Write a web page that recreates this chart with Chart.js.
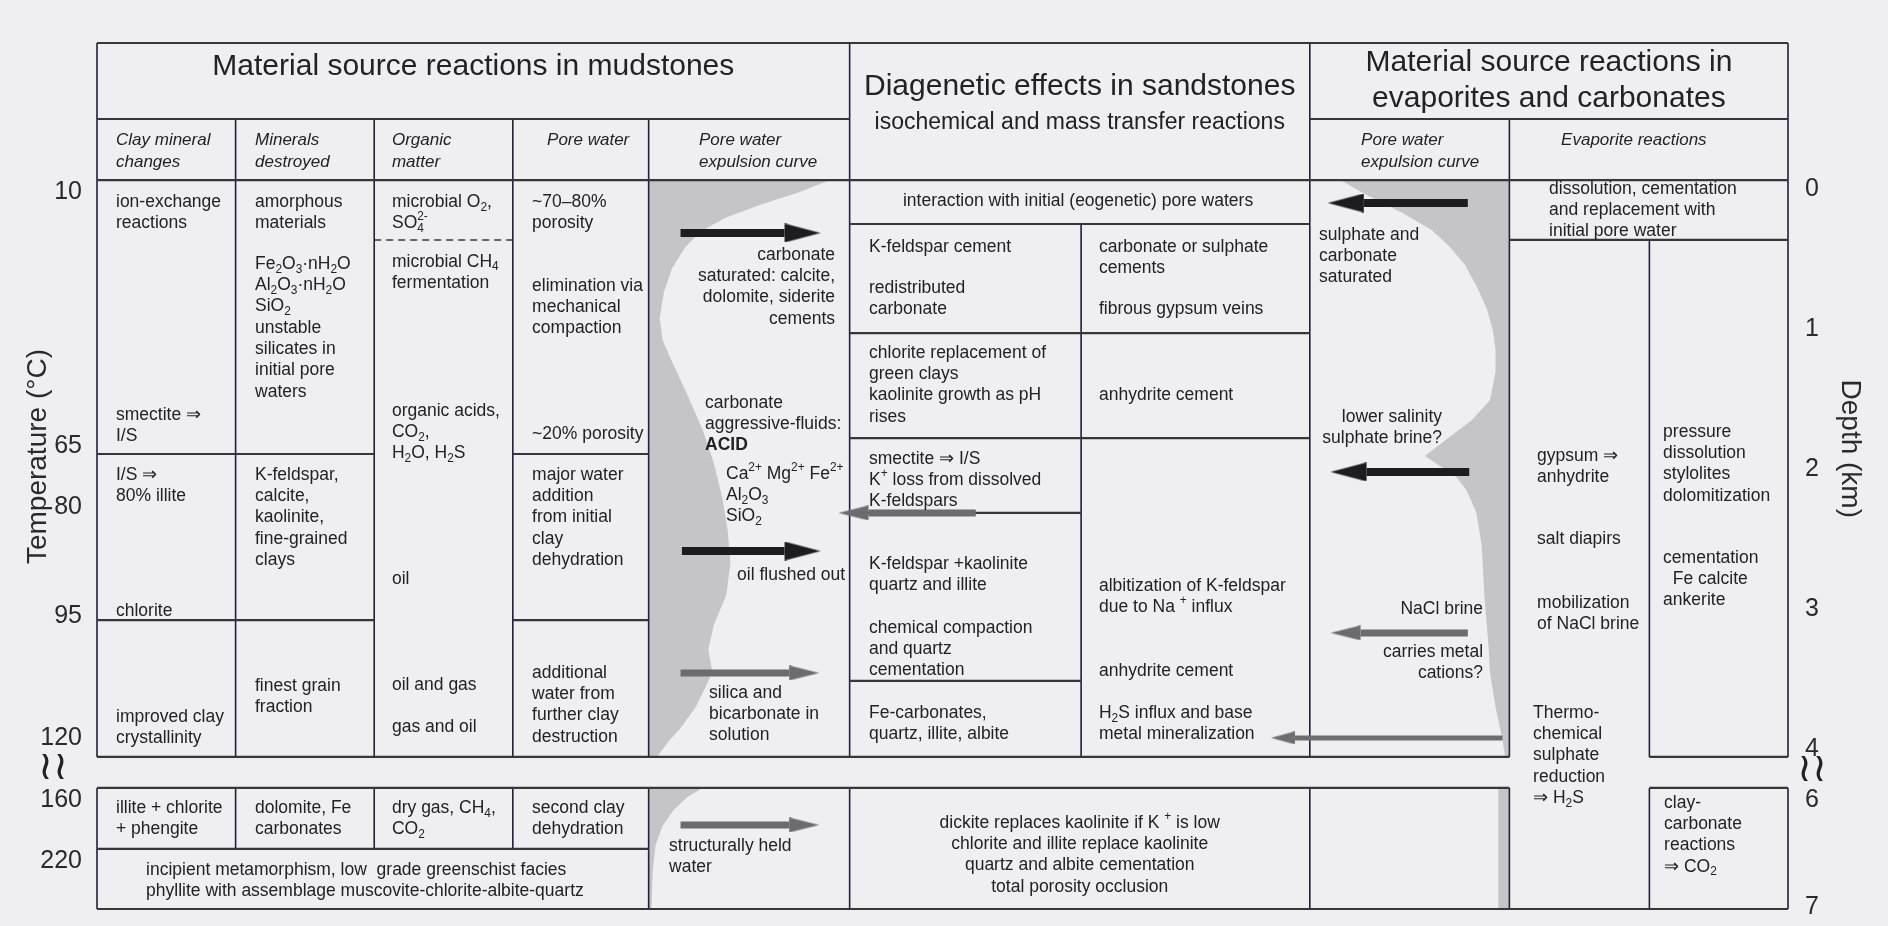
<!DOCTYPE html>
<html>
<head>
<meta charset="utf-8">
<title>Diagenetic reactions in mudstones, sandstones and evaporites</title>
<script src="https://cdn.jsdelivr.net/npm/chart.js@4.4.1/dist/chart.umd.min.js"></script>
<style>
  html, body { margin: 0; padding: 0; background: #efeff1; }
  #wrap { width: 1888px; height: 926px; position: relative; }
</style>
</head>
<body>
<div id="wrap"><canvas id="chart"></canvas></div>
<script>
var FONT = '"Liberation Sans", Arial, Helvetica, sans-serif';

// temperature ticks, placed at the depth (km) they sit against
var tempLabels = ['10', '65', '80', '95', '120', '160', '220'];
var tempDepth = [0.02, 1.84, 2.27, 3.05, 3.92, 6.0, 6.57];
// depth ticks (km)
var depthLabels = ['0', '1', '2', '3', '4', '6', '7'];
var depthValues = [0, 1, 2, 3, 4, 6, 7];

// pore water expulsion curve in mudstones: edge of grey band (column units) by depth (km)
var mudCurveX = [3.98, 5.29, 5.07, 4.78, 4.53, 4.35, 4.24, 4.15, 4.09, 4.06, 4.08, 4.15, 4.26, 4.37, 4.45, 4.51, 4.55, 4.57, 4.54, 4.45, 4.41, 4.44, 4.38, 4.32, 4.21, 4.12, 4.04, 3.98];
var mudCurveDepth = [-0.064, -0.064, 0.021, 0.114, 0.207, 0.307, 0.421, 0.564, 0.736, 0.921, 1.079, 1.236, 1.471, 1.721, 1.957, 2.2, 2.436, 2.671, 2.9, 3.114, 3.293, 3.45, 3.579, 3.7, 3.85, 3.95, 4.057, 4.057];
var mudDeepX = [3.98, 4.37, 4.26, 4.16, 4.08, 4.03, 4.01, 4.0, 3.98];
var mudDeepDepth = [5.888, 5.888, 5.972, 6.093, 6.243, 6.421, 6.654, 7.019, 7.019];

// pore water expulsion curve in evaporites
var evapCurveX = [8.97, 9.16, 9.42, 9.63, 9.76, 9.87, 9.96, 10.03, 10.07, 10.09, 10.09, 10.05, 9.92, 9.73, 9.58, 9.69, 9.80, 9.88, 9.95, 9.99, 10.01, 10.04, 10.05, 10.09, 10.14, 10.16, 10.19, 10.19];
var evapCurveDepth = [-0.064, 0.043, 0.171, 0.293, 0.414, 0.543, 0.707, 0.864, 1.007, 1.15, 1.307, 1.507, 1.65, 1.793, 1.907, 1.979, 2.05, 2.15, 2.307, 2.543, 2.914, 3.271, 3.457, 3.7, 3.936, 4.057, 4.057, -0.064];
var evapDeepX = [10.11, 10.19, 10.19, 10.11];
var evapDeepDepth = [5.888, 5.888, 7.019, 7.019];

// fluid arrows: tail, tip (column units), depth (km), kind
var arrowTail = [4.21, 4.22, 4.21, 4.21, 6.34, 9.89, 9.90, 9.89, 10.14];
var arrowTip = [5.22, 5.22, 5.21, 5.21, 5.35, 8.88, 8.90, 8.90, 8.47];
var arrowDepth = [0.314, 2.586, 3.457, 6.234, 2.314, 0.1, 2.021, 3.171, 3.921];
var arrowKind = ['black', 'black', 'grey', 'grey', 'grey', 'black', 'black', 'grey', 'thin'];

// table frame: column edges and ruled lines
var colEdges = [0, 1, 2, 3, 3.98, 5.43, 7.1, 8.75, 10.19, 11.2, 12.2];
var hRules = [
  [-1.043, 0, 10], [-0.5, 0, 5], [-0.5, 7, 10], [-0.064, 0, 10],
  [0.25, 5, 7], [0.364, 8, 10], [1.029, 5, 7], [1.779, 5, 7],
  [1.893, 0, 2], [1.893, 3, 4], [2.314, 5, 6], [3.079, 0, 2], [3.079, 3, 4],
  [3.514, 5, 6], [4.057, 0, 8], [4.057, 9, 10], [5.888, 0, 8], [5.888, 9, 10],
  [6.458, 0, 4], [7.019, 0, 10]
];
var vRules = [
  [0, -1.043, 4.057], [0, 5.888, 7.019],
  [1, -0.5, 4.057], [1, 5.888, 6.458],
  [2, -0.5, 4.057], [2, 5.888, 6.458],
  [3, -0.5, 4.057], [3, 5.888, 6.458],
  [4, -0.5, 4.057], [4, 5.888, 7.019],
  [5, -1.043, 4.057], [5, 5.888, 7.019],
  [6, 0.25, 4.057],
  [7, -1.043, 4.057], [7, 5.888, 7.019],
  [8, -0.5, 4.057], [8, 5.888, 7.019],
  [9, 0.364, 4.057], [9, 5.888, 7.019],
  [10, -1.043, 4.057], [10, 5.888, 7.019]
];
var dashRules = [[0.364, 2, 3]];

var notes = [
  {x: 2.715, d: -0.871, a: 'center', f: 'title', t: ['Material source reactions in mudstones']},
  {x: 7.09, d: -0.729, a: 'center', f: 'title', t: ['Diagenetic effects in sandstones']},
  {x: 7.09, d: -0.471, a: 'center', f: 'sub', t: ['isochemical and mass transfer reactions']},
  {x: 10.475, d: -0.9, a: 'center', f: 'title', t: ['Material source reactions in', 'evaporites and carbonates']},

  {x: 0.137, d: -0.35, f: 'head', t: ['Clay mineral', 'changes']},
  {x: 1.14, d: -0.35, f: 'head', t: ['Minerals', 'destroyed']},
  {x: 2.128, d: -0.35, f: 'head', t: ['Organic', 'matter']},
  {x: 3.247, d: -0.35, f: 'head', t: ['Pore water']},
  {x: 4.343, d: -0.35, f: 'head', t: ['Pore water', 'expulsion curve']},
  {x: 9.12, d: -0.35, f: 'head', t: ['Pore water', 'expulsion curve']},
  {x: 10.563, d: -0.35, f: 'head', t: ['Evaporite reactions']},

  {x: 0.137, d: 0.093, t: ['ion-exchange', 'reactions']},
  {x: 0.137, d: 1.614, t: ['smectite ⇒', 'I/S']},
  {x: 0.137, d: 2.043, t: ['I/S ⇒', '80% illite']},
  {x: 0.137, d: 3.014, t: ['chlorite']},
  {x: 0.137, d: 3.771, t: ['improved clay', 'crystallinity']},
  {x: 0.137, d: 6.075, t: ['illite + chlorite', '+ phengite']},

  {x: 1.14, d: 0.093, t: ['amorphous', 'materials']},
  {x: 1.14, d: 0.536, t: ['Fe_{2}O_{3}·nH_{2}O', 'Al_{2}O_{3}·nH_{2}O', 'SiO_{2}', 'unstable', 'silicates in', 'initial pore', 'waters']},
  {x: 1.14, d: 2.043, t: ['K-feldspar,', 'calcite,', 'kaolinite,', 'fine-grained', 'clays']},
  {x: 1.14, d: 3.55, t: ['finest grain', 'fraction']},
  {x: 1.14, d: 6.075, t: ['dolomite, Fe', 'carbonates']},

  {x: 2.128, d: 0.093, t: ['microbial O_{2},', 'SO_{4}^{2-}']},
  {x: 2.128, d: 0.521, t: ['microbial CH_{4}', 'fermentation']},
  {x: 2.128, d: 1.586, t: ['organic acids,', 'CO_{2},', 'H_{2}O, H_{2}S']},
  {x: 2.128, d: 2.786, t: ['oil']},
  {x: 2.128, d: 3.543, t: ['oil and gas']},
  {x: 2.128, d: 3.843, t: ['gas and oil']},
  {x: 2.128, d: 6.075, t: ['dry gas, CH_{4},', 'CO_{2}']},

  {x: 3.139, d: 0.093, t: ['~70–80%', 'porosity']},
  {x: 3.139, d: 0.693, t: ['elimination via', 'mechanical', 'compaction']},
  {x: 3.139, d: 1.75, t: ['~20% porosity']},
  {x: 3.139, d: 2.043, t: ['major water', 'addition', 'from initial', 'clay', 'dehydration']},
  {x: 3.139, d: 3.457, t: ['additional', 'water from', 'further clay', 'destruction']},
  {x: 3.139, d: 6.075, t: ['second clay', 'dehydration']},
  {x: 0.354, d: 6.654, t: ['incipient metamorphism, low  grade greenschist facies', 'phyllite with assemblage muscovite-chlorite-albite-quartz']},

  {x: 5.325, d: 0.471, a: 'right', t: ['carbonate', 'saturated: calcite,', 'dolomite, siderite', 'cements']},
  {x: 4.387, d: 1.529, t: ['carbonate', 'aggressive-fluids:']},
  {x: 4.387, d: 1.829, f: 'bold', t: ['ACID']},
  {x: 4.538, d: 2.036, t: ['Ca^{2+} Mg^{2+} Fe^{2+}', 'Al_{2}O_{3}', 'SiO_{2}']},
  {x: 5.397, d: 2.757, a: 'right', t: ['oil flushed out']},
  {x: 4.416, d: 3.6, t: ['silica and', 'bicarbonate in', 'solution']},
  {x: 4.127, d: 6.43, t: ['structurally held', 'water']},

  {x: 7.078, d: 0.086, a: 'center', t: ['interaction with initial (eogenetic) pore waters']},
  {x: 5.57, d: 0.414, t: ['K-feldspar cement']},
  {x: 5.57, d: 0.707, t: ['redistributed', 'carbonate']},
  {x: 5.57, d: 1.171, t: ['chlorite replacement of', 'green clays', 'kaolinite growth as pH', 'rises']},
  {x: 5.57, d: 1.929, t: ['smectite ⇒ I/S', 'K^{+} loss from dissolved', 'K-feldspars']},
  {x: 5.57, d: 2.679, t: ['K-feldspar +kaolinite', 'quartz and illite']},
  {x: 5.57, d: 3.136, t: ['chemical compaction', 'and quartz', 'cementation']},
  {x: 5.57, d: 3.743, t: ['Fe-carbonates,', 'quartz, illite, albite']},
  {x: 7.229, d: 0.414, t: ['carbonate or sulphate', 'cements']},
  {x: 7.229, d: 0.857, t: ['fibrous gypsum veins']},
  {x: 7.229, d: 1.471, t: ['anhydrite cement']},
  {x: 7.229, d: 2.836, t: ['albitization of K-feldspar', 'due to Na ^{+} influx']},
  {x: 7.229, d: 3.443, t: ['anhydrite cement']},
  {x: 7.229, d: 3.743, t: ['H_{2}S influx and base', 'metal mineralization']},
  {x: 7.09, d: 6.215, a: 'center', t: ['dickite replaces kaolinite if K ^{+} is low', 'chlorite and illite replace kaolinite', 'quartz and albite cementation', 'total porosity occlusion']},

  {x: 8.817, d: 0.329, t: ['sulphate and', 'carbonate', 'saturated']},
  {x: 9.704, d: 1.629, a: 'right', t: ['lower salinity', 'sulphate brine?']},
  {x: 10.0, d: 3.0, a: 'right', t: ['NaCl brine']},
  {x: 10.0, d: 3.307, a: 'right', t: ['carries metal', 'cations?']},

  {x: 10.476, d: 0, t: ['dissolution, cementation', 'and replacement with', 'initial pore water']},
  {x: 10.39, d: 1.907, t: ['gypsum ⇒', 'anhydrite']},
  {x: 10.39, d: 2.5, t: ['salt diapirs']},
  {x: 10.39, d: 2.957, t: ['mobilization', 'of NaCl brine']},
  {x: 10.361, d: 3.743, t: ['Thermo-', 'chemical', 'sulphate', 'reduction', '⇒ H_{2}S']},
  {x: 11.299, d: 1.736, t: ['pressure', 'dissolution', 'stylolites', 'dolomitization']},
  {x: 11.299, d: 2.636, t: ['cementation', '  Fe calcite', 'ankerite']},
  {x: 11.306, d: 6.028, t: ['clay-', 'carbonate', 'reactions', '⇒ CO_{2}']},

  {x: -0.317, d: 4.136, a: 'center', f: 'wave', t: ['≀≀']},
  {x: 12.374, d: 4.15, a: 'center', f: 'wave', t: ['≀≀']}
];

var fonts = {
  body: {size: 17.5, style: '', lh: 21.3},
  bold: {size: 17.5, style: 'bold ', lh: 21.3},
  head: {size: 17, style: 'italic ', lh: 22},
  title: {size: 30, style: '', lh: 36},
  sub: {size: 23, style: '', lh: 28},
  wave: {size: 40, style: '', lh: 40}
};

var arrowStyle = {
  black: {w: 8, color: '#1d1d1f', len: 36, h: 19},
  grey: {w: 7, color: '#6c6c70', len: 30, h: 15},
  thin: {w: 5, color: '#6e6e72', len: 24, h: 13}
};
var PX_PER_UNIT = 1691 / 12.2;

// depth below the scale break is drawn compressed
function yv(d) {
  return d <= 5 ? d : 4.364 + (d - 6) * 0.7643;
}

function pts(xs, ds) {
  return xs.map(function (x, i) { return {x: x, y: yv(ds[i])}; });
}

function ruleData() {
  var h = [], v = [], dash = [];
  hRules.forEach(function (r) {
    h.push({x: colEdges[r[1]], y: yv(r[0])}, {x: colEdges[r[2]], y: yv(r[0])}, {x: NaN, y: NaN});
  });
  vRules.forEach(function (r) {
    v.push({x: colEdges[r[0]], y: yv(r[1])}, {x: colEdges[r[0]], y: yv(r[2])}, {x: NaN, y: NaN});
  });
  dashRules.forEach(function (r) {
    dash.push({x: colEdges[r[1]], y: yv(r[0])}, {x: colEdges[r[2]], y: yv(r[0])});
  });
  return {h: h, v: v, dash: dash};
}

function headImage(len, h, color) {
  var c = document.createElement('canvas');
  c.width = len * 2;
  c.height = h;
  var g = c.getContext('2d');
  g.fillStyle = color;
  g.beginPath();
  g.moveTo(len, 0);
  g.lineTo(len * 2, h / 2);
  g.lineTo(len, h);
  g.closePath();
  g.fill();
  return c;
}

function arrowSets() {
  return arrowTail.map(function (tail, i) {
    var st = arrowStyle[arrowKind[i]];
    var dir = arrowTip[i] > tail ? 1 : -1;
    var neck = arrowTip[i] - dir * st.len / PX_PER_UNIT;
    var y = yv(arrowDepth[i]);
    return {
      data: [{x: tail, y: y}, {x: neck, y: y}],
      borderColor: st.color,
      borderWidth: st.w,
      borderCapStyle: 'butt',
      pointStyle: headImage(st.len, st.h, st.color),
      pointRadius: [0, 4],
      pointRotation: dir > 0 ? 0 : 180,
      fill: false,
      clip: false,
      order: 1
    };
  });
}

function richParts(str) {
  var out = [];
  str.split(/(_\{[^}]*\}|\^\{[^}]*\})/).forEach(function (p) {
    if (!p) return;
    if (p.indexOf('_{') === 0) out.push({t: p.slice(2, -1), k: 'sub'});
    else if (p.indexOf('^{') === 0) out.push({t: p.slice(2, -1), k: 'sup'});
    else out.push({t: p, k: 'n'});
  });
  return out;
}

function drawRich(ctx, str, x, y, align, f) {
  var small = f.size * 0.68;
  var w = 0, items = [], prevSub = null;
  richParts(str).forEach(function (p) {
    ctx.font = f.style + (p.k === 'n' ? f.size : small) + 'px ' + FONT;
    var pw = ctx.measureText(p.t).width;
    var px = w;
    if (p.k === 'sup' && prevSub) {
      px = prevSub.x;
      w = Math.max(w, px + pw);
    } else {
      w += pw;
    }
    var it = {p: p, x: px};
    items.push(it);
    prevSub = p.k === 'sub' ? it : null;
  });
  var x0 = align === 'center' ? x - w / 2 : align === 'right' ? x - w : x;
  items.forEach(function (it) {
    ctx.font = f.style + (it.p.k === 'n' ? f.size : small) + 'px ' + FONT;
    var dy = it.p.k === 'sub' ? f.size * 0.3 : it.p.k === 'sup' ? -f.size * 0.36 : 0;
    ctx.fillText(it.p.t, x0 + it.x, y + dy);
  });
}

var notesPlugin = {
  id: 'notes',
  afterDraw: function (chart) {
    var ctx = chart.ctx, xs = chart.scales.x, ys = chart.scales.y;
    ctx.save();
    ctx.fillStyle = '#222224';
    ctx.textBaseline = 'middle';
    ctx.textAlign = 'left';
    notes.forEach(function (n) {
      var f = fonts[n.f || 'body'];
      var px = xs.getPixelForValue(n.x);
      var py = ys.getPixelForValue(yv(n.d));
      n.t.forEach(function (line, i) {
        drawRich(ctx, line, px, py + i * f.lh, n.a || 'left', f);
      });
    });
    ctx.restore();
  }
};

var rules = ruleData();
var greyFill = '#c4c4c9';

var datasets = [
  {data: pts(mudCurveX, mudCurveDepth), fill: 'shape', backgroundColor: greyFill, borderWidth: 0, order: 3},
  {data: pts(mudDeepX, mudDeepDepth), fill: 'shape', backgroundColor: greyFill, borderWidth: 0, order: 3},
  {data: pts(evapCurveX, evapCurveDepth), fill: 'shape', backgroundColor: greyFill, borderWidth: 0, order: 3},
  {data: pts(evapDeepX, evapDeepDepth), fill: 'shape', backgroundColor: greyFill, borderWidth: 0, order: 3},
  {data: rules.h, borderColor: '#37373b', borderWidth: 2.2, fill: false, clip: false, order: 2},
  {data: rules.v, borderColor: '#1f2238', borderWidth: 1.6, fill: false, clip: false, order: 2},
  {data: rules.dash, borderColor: '#37373b', borderWidth: 1.6, borderDash: [7, 5], fill: false, clip: false, order: 2}
].concat(arrowSets());

var axisFont = {size: 25, family: FONT};
var NB = '\u00a0';

// keep the plot area fixed: no extra room for half-labels at the ends
function fitSide(width) {
  return function (s) {
    s.width = width;
    s.paddingTop = 0;
    s.paddingBottom = 0;
  };
}

new Chart(document.getElementById('chart'), {
  type: 'line',
  data: {datasets: datasets},
  options: {
    responsive: true,
    maintainAspectRatio: false,
    animation: false,
    layout: {padding: {top: 43, bottom: 17, left: 0, right: 0}},
    elements: {point: {radius: 0, hoverRadius: 0}, line: {tension: 0}},
    plugins: {legend: {display: false}, tooltip: {enabled: false}},
    events: [],
    scales: {
      x: {type: 'linear', min: 0, max: 12.2, display: false},
      y: {
        type: 'linear', position: 'left', reverse: true, min: -1.043, max: 5.143,
        afterFit: fitSide(97),
        afterBuildTicks: function (s) {
          s.ticks = tempDepth.map(function (d) { return {value: yv(d)}; });
        },
        ticks: {
          autoSkip: false, padding: 15, color: '#2a2a2c', font: axisFont,
          callback: function (v, i) { return tempLabels[i]; }
        },
        grid: {display: false, drawTicks: false},
        border: {display: false},
        title: {display: true, text: NB.repeat(5) + 'Temperature (°C)', color: '#2a2a2c', font: {size: 28, family: FONT}, padding: {top: 21, bottom: 0}}
      },
      y2: {
        type: 'linear', position: 'right', reverse: true, min: -1.043, max: 5.143,
        afterFit: fitSide(100),
        afterBuildTicks: function (s) {
          s.ticks = depthValues.map(function (d) { return {value: yv(d)}; });
        },
        ticks: {
          autoSkip: false, padding: 17, color: '#2a2a2c', font: axisFont,
          callback: function (v, i) { return depthLabels[i]; }
        },
        grid: {display: false, drawTicks: false},
        border: {display: false},
        title: {display: true, text: 'Depth (km)' + NB.repeat(7), color: '#2a2a2c', font: {size: 28, family: FONT}, padding: {top: 21, bottom: 0}}
      }
    }
  },
  plugins: [notesPlugin]
});
</script>
</body>
</html>
